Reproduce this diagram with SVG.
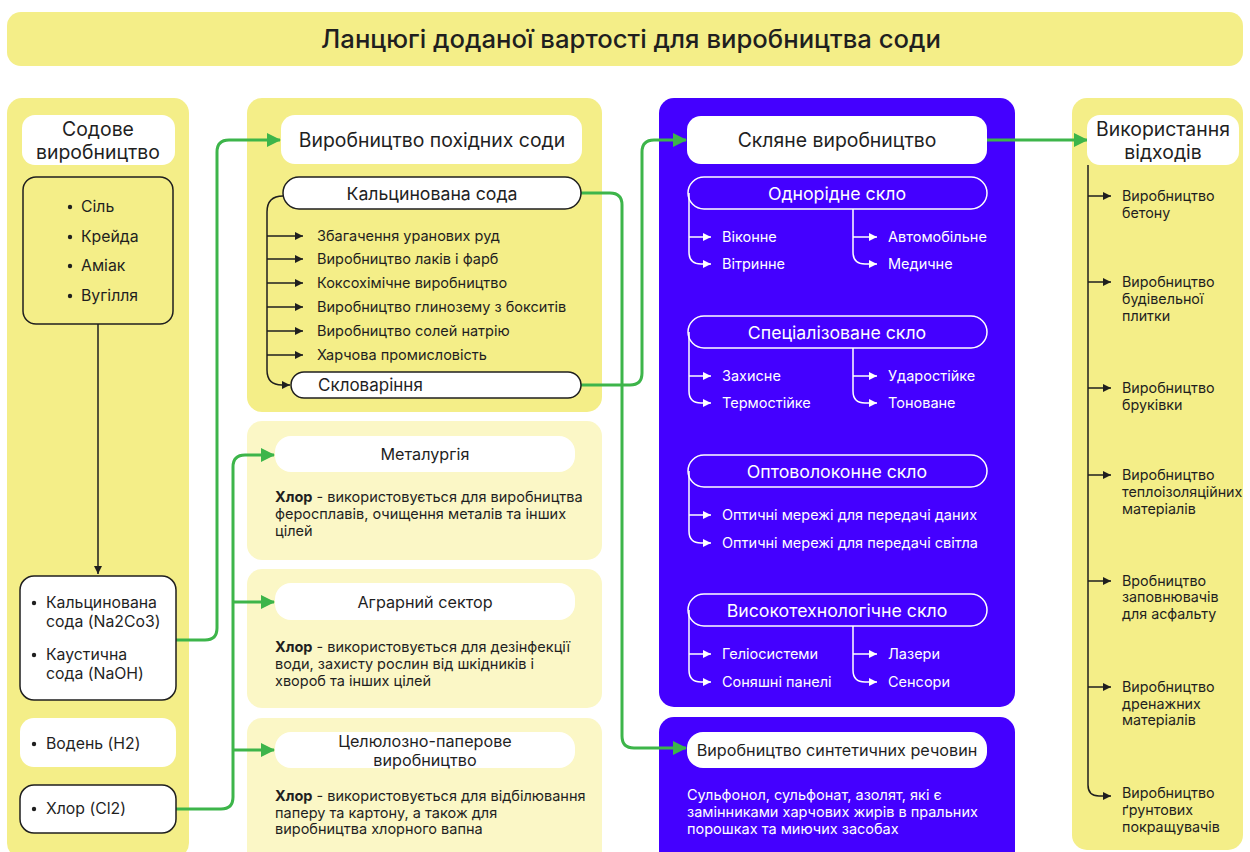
<svg xmlns="http://www.w3.org/2000/svg" width="1250" height="852" viewBox="0 0 1250 852">
<style>
text{font-family:Inter,"Noto Sans","Liberation Sans",sans-serif;fill:#1f1f1f}
.panel{fill:#F4EE88}
.lpanel{fill:#FBF7C6}
.bpanel{fill:#4400FF}
.wbox{fill:#fff}
.sbox{fill:#fff;stroke:#1f1f1f;stroke-width:1.5}
.ybox{fill:#F4EE88;stroke:#1f1f1f;stroke-width:1.5}
.wpill{fill:none;stroke:#fff;stroke-width:1.5}
.h{font-size:19.4px;text-anchor:middle}
.p{font-size:17.7px;text-anchor:middle}
.bh{font-size:16.2px;text-anchor:middle}
.m{font-size:15.8px}
.s{font-size:14.5px}
.r{font-size:14.3px}
.w{fill:#fff}
.g{fill:none;stroke:#3DB54A;stroke-width:3}
.k{fill:none;stroke:#1f1f1f;stroke-width:1.5}
.wl{fill:none;stroke:#fff;stroke-width:1.5}
</style>
<defs>
<marker id="ga" markerWidth="14" markerHeight="14" refX="13" refY="7" orient="auto" markerUnits="userSpaceOnUse"><path d="M0,0 L14,7 L0,14 z" fill="#3DB54A"/></marker>
<marker id="ka" markerWidth="8" markerHeight="8" refX="8" refY="4" orient="auto" markerUnits="userSpaceOnUse"><path d="M0,0 L8,4 L0,8 z" fill="#1f1f1f"/></marker>
<marker id="wa" markerWidth="8" markerHeight="8" refX="8" refY="4" orient="auto" markerUnits="userSpaceOnUse"><path d="M0,0 L8,4 L0,8 z" fill="#fff"/></marker>
</defs>
<rect width="1250" height="852" fill="#fff"/>

<g id="title">
<rect x="7" y="12" width="1236" height="54" rx="14" class="panel"/>
<text x="631" y="48" font-size="25.7" font-weight="500" text-anchor="middle">Ланцюгі доданої вартості для виробництва соди</text>
</g>

<g id="panels">
<rect x="7" y="98" width="182" height="760" rx="15" class="panel"/>
<rect x="247" y="98" width="355" height="314" rx="15" class="panel"/>
<rect x="247" y="421" width="355" height="139" rx="15" class="lpanel"/>
<rect x="247" y="569" width="355" height="139" rx="15" class="lpanel"/>
<rect x="247" y="718" width="355" height="150" rx="15" class="lpanel"/>
<rect x="659" y="98" width="356" height="609" rx="15" class="bpanel"/>
<rect x="659" y="717" width="356" height="150" rx="15" class="bpanel"/>
<rect x="1072" y="98" width="171" height="752" rx="15" class="panel"/>
</g>

<g id="connectors">
<path class="k" d="M98 324 L98 574" marker-end="url(#ka)"/>
<path class="g" d="M176 640 L205 640 Q217 640 217 628 L217 152 Q217 140 229 140 L280 140" marker-end="url(#ga)"/>
<path class="g" d="M176 809 L221 809 Q233 809 233 797 L233 467 Q233 455 245 455 L274 455" marker-end="url(#ga)"/>
<path class="g" d="M233 602 L274 602" marker-end="url(#ga)"/>
<path class="g" d="M233 750 L274 750" marker-end="url(#ga)"/>
<path class="g" d="M581 193 L610 193 Q622 193 622 205 L622 736 Q622 748 634 748 L686 748" marker-end="url(#ga)"/>
<path class="g" d="M581 385 L630 385 Q642 385 642 373 L642 152 Q642 140 654 140 L686 140" marker-end="url(#ga)"/>
<path class="g" d="M987 140 L1087 140" marker-end="url(#ga)"/>
<path class="k" d="M283 196 Q267 196 267 212 L267 370 Q267 385 282 385 L290 385" marker-end="url(#ka)"/>
<path class="k" d="M267 236 L303 236" marker-end="url(#ka)"/>
<path class="k" d="M267 259 L303 259" marker-end="url(#ka)"/>
<path class="k" d="M267 283 L303 283" marker-end="url(#ka)"/>
<path class="k" d="M267 307 L303 307" marker-end="url(#ka)"/>
<path class="k" d="M267 331 L303 331" marker-end="url(#ka)"/>
<path class="k" d="M267 355 L303 355" marker-end="url(#ka)"/>
<path class="wl" d="M689 193 L689 252 Q689 264 701 264 L711 264" marker-end="url(#wa)"/>
<path class="wl" d="M689 237 L711 237" marker-end="url(#wa)"/>
<path class="wl" d="M853 209 L853 252 Q853 264 865 264 L877 264" marker-end="url(#wa)"/>
<path class="wl" d="M853 237 L877 237" marker-end="url(#wa)"/>
<path class="wl" d="M689 332 L689 391 Q689 403 701 403 L711 403" marker-end="url(#wa)"/>
<path class="wl" d="M689 376 L711 376" marker-end="url(#wa)"/>
<path class="wl" d="M853 348 L853 391 Q853 403 865 403 L877 403" marker-end="url(#wa)"/>
<path class="wl" d="M853 376 L877 376" marker-end="url(#wa)"/>
<path class="wl" d="M689 471 L689 531 Q689 543 701 543 L711 543" marker-end="url(#wa)"/>
<path class="wl" d="M689 515 L711 515" marker-end="url(#wa)"/>
<path class="wl" d="M689 610 L689 670 Q689 682 701 682 L711 682" marker-end="url(#wa)"/>
<path class="wl" d="M689 654 L711 654" marker-end="url(#wa)"/>
<path class="wl" d="M853 626 L853 670 Q853 682 865 682 L877 682" marker-end="url(#wa)"/>
<path class="wl" d="M853 654 L877 654" marker-end="url(#wa)"/>
<path class="k" d="M1088 165 L1088 785 Q1088 796 1099 796 L1111 796" marker-end="url(#ka)"/>
<path class="k" d="M1088 196 L1111 196" marker-end="url(#ka)"/>
<path class="k" d="M1088 282 L1111 282" marker-end="url(#ka)"/>
<path class="k" d="M1088 388 L1111 388" marker-end="url(#ka)"/>
<path class="k" d="M1088 475 L1111 475" marker-end="url(#ka)"/>
<path class="k" d="M1088 581 L1111 581" marker-end="url(#ka)"/>
<path class="k" d="M1088 687 L1111 687" marker-end="url(#ka)"/>
</g>

<g id="n-sodove">
<rect x="22" y="115" width="153" height="50" rx="13" class="wbox"/>
<text class="h" x="98" y="136">Содове</text>
<text class="h" x="98" y="159">виробництво</text>
</g>
<g id="n-syrovyna">
<rect x="23" y="177" width="150" height="147" rx="13" class="ybox"/>
<circle cx="70" cy="207" r="2.2" fill="#1f1f1f"/><text class="m" x="81" y="212">Сіль</text>
<circle cx="70" cy="237" r="2.2" fill="#1f1f1f"/><text class="m" x="81" y="242">Крейда</text>
<circle cx="70" cy="266" r="2.2" fill="#1f1f1f"/><text class="m" x="81" y="271">Аміак</text>
<circle cx="70" cy="296" r="2.2" fill="#1f1f1f"/><text class="m" x="81" y="301">Вугілля</text>
</g>
<g id="n-soda">
<rect x="20" y="576" width="156" height="124" rx="14" class="sbox"/>
<circle cx="34" cy="603" r="2.2" fill="#1f1f1f"/><text class="m" x="46" y="608">Кальцинована</text>
<text class="m" x="46" y="627">сода (Na2Co3)</text>
<circle cx="34" cy="655" r="2.2" fill="#1f1f1f"/><text class="m" x="46" y="660">Каустична</text>
<text class="m" x="46" y="679">сода (NaOH)</text>
</g>
<g id="n-voden">
<rect x="20" y="718" width="156" height="49" rx="14" class="wbox"/>
<circle cx="34" cy="744" r="2.2" fill="#1f1f1f"/><text class="m" x="46" y="749">Водень (H2)</text>
</g>
<g id="n-khlor">
<rect x="20" y="785" width="156" height="48" rx="14" class="sbox"/>
<circle cx="34" cy="809" r="2.2" fill="#1f1f1f"/><text class="m" x="46" y="814">Хлор (Cl2)</text>
</g>

<g id="n-pokhidni">
<rect x="281" y="115" width="301" height="49" rx="14" class="wbox"/>
<text class="h" x="432" y="147">Виробництво похідних соди</text>
</g>
<g id="n-kaltsynovana">
<rect x="283" y="177" width="298" height="32" rx="16" class="sbox"/>
<text class="p" x="432" y="200">Кальцинована сода</text>
</g>
<g id="n-vykorystannia-sody">
<text class="s" x="317" y="241">Збагачення уранових руд</text>
<text class="s" x="317" y="264">Виробництво лаків і фарб</text>
<text class="s" x="317" y="288">Коксохімічне виробництво</text>
<text class="s" x="317" y="312">Виробництво глинозему з бокситів</text>
<text class="s" x="317" y="336">Виробництво солей натрію</text>
<text class="s" x="317" y="360">Харчова промисловість</text>
</g>
<g id="n-sklovarinnia">
<rect x="291" y="372" width="290" height="26" rx="13" class="sbox"/>
<text font-size="17" x="318" y="391">Скловаріння</text>
</g>

<g id="n-metalurhiia">
<rect x="275" y="436" width="300" height="36" rx="16" class="wbox"/>
<text class="bh" x="425" y="460">Металургія</text>
<text class="s" x="275" y="502"><tspan font-weight="700">Хлор</tspan> - використовується для виробництва</text>
<text class="s" x="275" y="519">феросплавів, очищення металів та інших</text>
<text class="s" x="275" y="536">цілей</text>
</g>
<g id="n-ahrarnyi">
<rect x="275" y="583" width="300" height="37" rx="16" class="wbox"/>
<text class="bh" x="425" y="608">Аграрний сектор</text>
<text class="s" x="275" y="652"><tspan font-weight="700">Хлор</tspan> - використовується для дезінфекції</text>
<text class="s" x="275" y="669">води, захисту рослин від шкідників і</text>
<text class="s" x="275" y="686">хвороб та інших цілей</text>
</g>
<g id="n-tseliuloza">
<rect x="275" y="732" width="300" height="36" rx="16" class="wbox"/>
<text class="bh" x="425" y="747">Целюлозно-паперове</text>
<text class="bh" x="425" y="766">виробництво</text>
<text class="s" x="275" y="801"><tspan font-weight="700">Хлор</tspan> - використовується для відбілювання</text>
<text class="s" x="275" y="818">паперу та картону, а також для</text>
<text class="s" x="275" y="834">виробництва хлорного вапна</text>
</g>

<g id="n-sklo">
<rect x="687" y="116" width="300" height="48" rx="14" class="wbox"/>
<text class="h" x="837" y="147">Скляне виробництво</text>
</g>
<g id="n-odnoridne">
<rect x="688" y="177" width="299" height="32" rx="16" class="wpill"/>
<text class="p w" x="837" y="200">Однорідне скло</text>
<text class="s w" x="722" y="242">Віконне</text>
<text class="s w" x="722" y="269">Вітринне</text>
<text class="s w" x="888" y="242">Автомобільне</text>
<text class="s w" x="888" y="269">Медичне</text>
</g>
<g id="n-spetsializovane">
<rect x="688" y="316" width="299" height="32" rx="16" class="wpill"/>
<text class="p w" x="837" y="339">Спеціалізоване скло</text>
<text class="s w" x="722" y="381">Захисне</text>
<text class="s w" x="722" y="408">Термостійке</text>
<text class="s w" x="888" y="381">Ударостійке</text>
<text class="s w" x="888" y="408">Тоноване</text>
</g>
<g id="n-optovolokonne">
<rect x="688" y="455" width="299" height="32" rx="16" class="wpill"/>
<text class="p w" x="837" y="478">Оптоволоконне скло</text>
<text class="s w" x="722" y="520">Оптичні мережі для передачі даних</text>
<text class="s w" x="722" y="548">Оптичні мережі для передачі світла</text>
</g>
<g id="n-vysokotekh">
<rect x="688" y="594" width="299" height="32" rx="16" class="wpill"/>
<text class="p w" x="837" y="617">Високотехнологічне скло</text>
<text class="s w" x="722" y="659">Геліосистеми</text>
<text class="s w" x="722" y="687">Соняшні панелі</text>
<text class="s w" x="888" y="659">Лазери</text>
<text class="s w" x="888" y="687">Сенсори</text>
</g>
<g id="n-syntetychni">
<rect x="687" y="732" width="300" height="36" rx="16" class="wbox"/>
<text class="bh" x="837" y="756">Виробництво синтетичних речовин</text>
<text class="s w" x="687" y="800">Сульфонол, сульфонат, азолят, які є</text>
<text class="s w" x="687" y="817">замінниками харчових жирів в пральних</text>
<text class="s w" x="687" y="834">порошках та миючих засобах</text>
</g>

<g id="n-vidkhody">
<rect x="1087" y="115" width="152" height="50" rx="13" class="wbox"/>
<text class="h" x="1163" y="136">Використання</text>
<text class="h" x="1163" y="159">відходів</text>
<text class="r" x="1122" y="201">Виробництво</text>
<text class="r" x="1122" y="218">бетону</text>
<text class="r" x="1122" y="287">Виробництво</text>
<text class="r" x="1122" y="304">будівельної</text>
<text class="r" x="1122" y="321">плитки</text>
<text class="r" x="1122" y="393">Виробництво</text>
<text class="r" x="1122" y="410">бруківки</text>
<text class="r" x="1122" y="480">Виробництво</text>
<text class="r" x="1122" y="497">теплоізоляційних</text>
<text class="r" x="1122" y="514">матеріалів</text>
<text class="r" x="1122" y="586">Вробництво</text>
<text class="r" x="1122" y="602">заповнювачів</text>
<text class="r" x="1122" y="619">для асфальту</text>
<text class="r" x="1122" y="692">Виробництво</text>
<text class="r" x="1122" y="709">дренажних</text>
<text class="r" x="1122" y="725">матеріалів</text>
<text class="r" x="1122" y="798">Виробництво</text>
<text class="r" x="1122" y="815">ґрунтових</text>
<text class="r" x="1122" y="832">покращувачів</text>
</g>
</svg>
